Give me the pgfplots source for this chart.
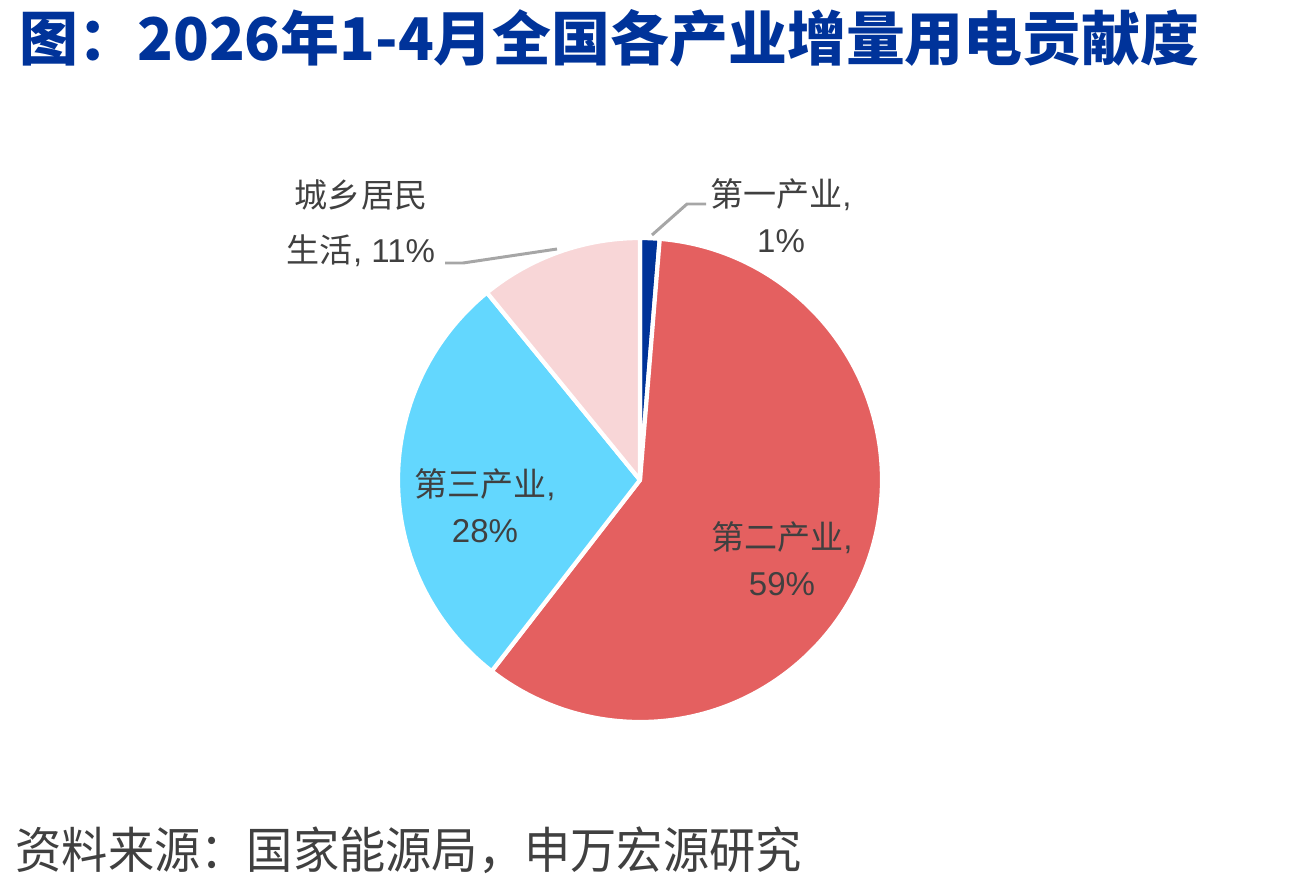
\documentclass[border=0pt]{standalone}
\usepackage{pgfplots}
\pgfplotsset{compat=1.18}
\usepackage{pgfplotstable}
\usepackage{fontspec}
\setmainfont{Liberation Sans}
\newfontfamily\cjk{Noto Sans CJK SC}
\newfontfamily\cjknarrow[FakeStretch=0.94]{Noto Sans CJK SC}
\definecolor{cA}{HTML}{003399}
\definecolor{cB}{HTML}{E46060}
\definecolor{cC}{HTML}{63D7FE}
\definecolor{cD}{HTML}{F8D6D7}
\definecolor{txt}{HTML}{404040}
\definecolor{ttl}{HTML}{00339A}
\definecolor{lead}{HTML}{A6A6A6}
\pgfplotstableread{
name value
primary 1.3
secondary 59.2
tertiary 28.6
resident 10.9
}\piedata
\begin{document}
\begin{tikzpicture}
\pgfplotstablegetelem{0}{value}\of\piedata \let\vA\pgfplotsretval
\pgfplotstablegetelem{1}{value}\of\piedata \let\vB\pgfplotsretval
\pgfplotstablegetelem{2}{value}\of\piedata \let\vC\pgfplotsretval
\pgfplotstablegetelem{3}{value}\of\piedata \let\vD\pgfplotsretval
\pgfmathsetmacro\aA{90}
\pgfmathsetmacro\aB{\aA-3.6*\vA}
\pgfmathsetmacro\aC{\aB-3.6*\vB}
\pgfmathsetmacro\aD{\aC-3.6*\vC}
\pgfmathsetmacro\aE{\aD-3.6*\vD}
\begin{axis}[at={(0,0)}, anchor=south west, scale only axis,
  width=13.1cm, height=8.85cm, xmin=0, xmax=1310, ymin=0, ymax=885,
  hide axis, clip=false]
\fill[cA, draw=white, line width=1.2pt, line join=round] (640,405) -- ++(\aA:2.42cm) arc[start angle=\aA, end angle=\aB, radius=2.42cm] -- cycle;
\fill[cB, draw=white, line width=1.2pt, line join=round] (640,405) -- ++(\aB:2.42cm) arc[start angle=\aB, end angle=\aC, radius=2.42cm] -- cycle;
\fill[cC, draw=white, line width=1.2pt, line join=round] (640,405) -- ++(\aC:2.42cm) arc[start angle=\aC, end angle=\aD, radius=2.42cm] -- cycle;
\fill[cD, draw=white, line width=1.2pt, line join=round] (640,405) -- ++(\aD:2.42cm) arc[start angle=\aD, end angle=\aE, radius=2.42cm] -- cycle;
% leader lines
\draw[lead, line width=0.85pt] (652,650) -- (687,681) -- (706,681);
\draw[lead, line width=0.85pt] (445,622) -- (463,622) -- (557,636);
% labels
\tikzset{lbl/.style={text=txt, inner sep=0pt, font=\fontsize{9.4}{11}\selectfont}}
\node[lbl] at (781,690) {{\cjk 第一产业},};
\node[lbl] at (781,644) {1\%};
\node[lbl] at (361,690) {\cjk 城乡居民};
\node[lbl] at (361,634) {{\cjk 生活}, 11\%};
\node[lbl] at (485,400) {{\cjk 第三产业},};
\node[lbl] at (485,354) {28\%};
\node[lbl] at (782,347) {{\cjk 第二产业},};
\node[lbl] at (782,301) {59\%};
% title and source
\node[anchor=west, inner sep=0pt, text=ttl, font=\cjk\bfseries\fontsize{16.75}{18}\selectfont] at (19,847) {图：2026年1-4月全国各产业增量用电贡献度};
\node[anchor=west, inner sep=0pt, text=txt, font=\cjknarrow\fontsize{14}{16}\selectfont] at (15,35) {资料来源：国家能源局，申万宏源研究};
\end{axis}
\path (0,0) rectangle (13.1cm,8.85cm);
\end{tikzpicture}
\end{document}
